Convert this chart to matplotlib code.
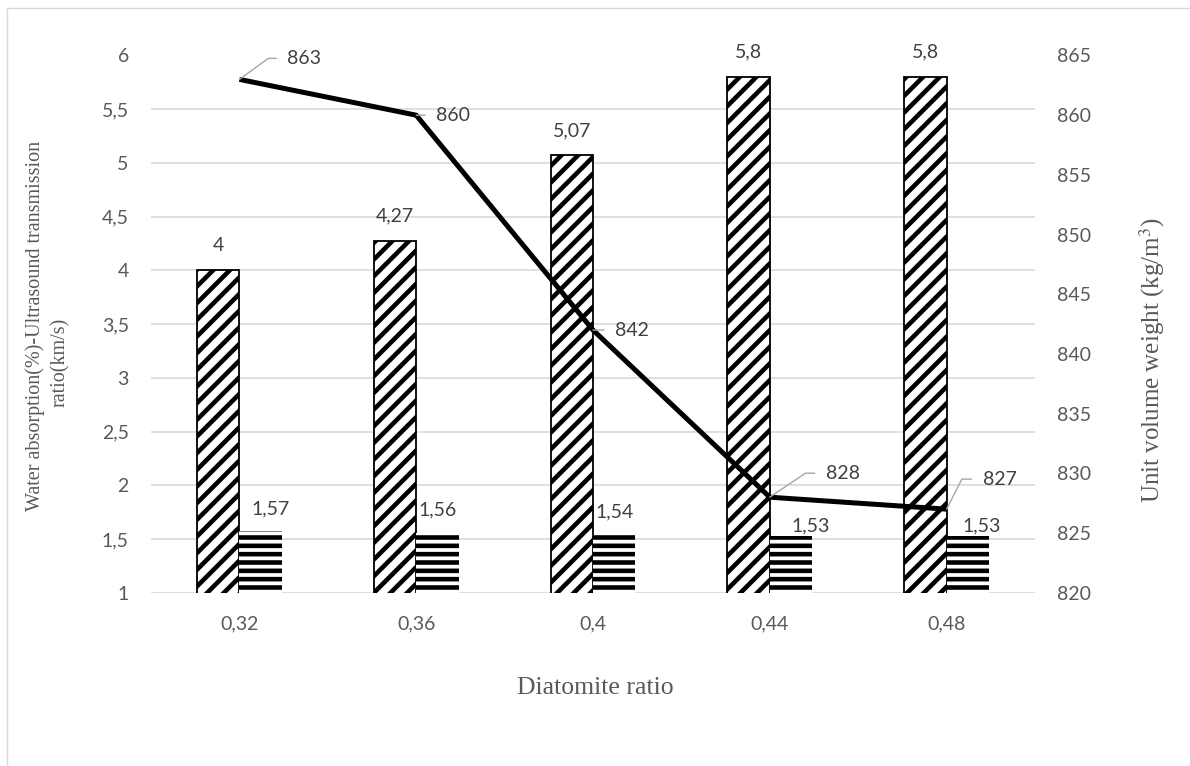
import matplotlib.pyplot as plt
from matplotlib.lines import Line2D

plt.rcParams['font.family'] = ['Lato', 'DejaVu Sans']
plt.rcParams['hatch.linewidth'] = 3.3

# diatomite ratios and measured properties
ratios = ['0,32', '0,36', '0,4', '0,44', '0,48']
water_absorption = [4, 4.27, 5.07, 5.8, 5.8]       # %
ultrasound_speed = [1.57, 1.56, 1.54, 1.53, 1.53]  # km/s
unit_weight = [863, 860, 842, 828, 827]            # kg/m3

left_ticks = [1, 1.5, 2, 2.5, 3, 3.5, 4, 4.5, 5, 5.5, 6]
right_ticks = [820, 825, 830, 835, 840, 845, 850, 855, 860, 865]

TICK_GREY = '#595959'
LABEL_GREY = '#404040'
GRID_GREY = '#d9d9d9'
LEADER_GREY = '#a6a6a6'


def comma(v):
    return f'{v:g}'.replace('.', ',')


def px(v):
    # pixel offsets -> points at 100 dpi
    return v * 0.72


fig = plt.figure(figsize=(11.9, 7.66), dpi=100)
ax1 = fig.add_axes([151 / 1190, 1 - 592.7 / 766, (1035 - 151) / 1190, (592.7 - 55.5) / 766])
ax2 = ax1.twinx()

x = list(range(len(ratios)))
w = 0.24

ax1.bar([i - w / 2 for i in x], water_absorption, w, color='white', edgecolor='black',
        linewidth=1.3, hatch='//', zorder=2)
ax1.bar([i + w / 2 for i in x], ultrasound_speed, w, color='white', edgecolor='black',
        linewidth=0, hatch='--', zorder=2)

ax1.set_xlim(-0.5, len(ratios) - 0.5)
ax1.set_ylim(1, 6)
ax1.set_yticks(left_ticks)
ax1.set_yticklabels([comma(t) for t in left_ticks])
ax1.set_xticks(x)
ax1.set_xticklabels(ratios)
ax1.yaxis.grid(True, color=GRID_GREY, linewidth=1.2)
ax1.set_axisbelow(True)

ax2.plot(x, unit_weight, color='black', linewidth=3.6, solid_capstyle='butt', zorder=3)
ax2.set_ylim(820, 865)
ax2.set_yticks(right_ticks)
ax2.set_yticklabels([str(t) for t in right_ticks])

for ax in (ax1, ax2):
    for s in ax.spines.values():
        s.set_visible(False)
    ax.tick_params(length=0, labelsize=14, labelcolor=TICK_GREY)
ax1.tick_params(axis='y', pad=16)
ax2.tick_params(axis='y', pad=16)
ax1.tick_params(axis='x', pad=16)

# value labels on the bars
for i, v in zip(x, water_absorption):
    ax1.annotate(comma(v), (i - w / 2, v), xytext=(0, px(25)), textcoords='offset points',
                 ha='center', va='center', fontsize=14, color=LABEL_GREY)

us_offsets = [(10, 23), (0, 23), (0, 23), (20, 10), (14, 10)]
for i, v, (dx, dy) in zip(x, ultrasound_speed, us_offsets):
    ax1.annotate(comma(v), (i + w / 2, v), xytext=(px(dx), px(dy)), textcoords='offset points',
                 ha='center', va='center', fontsize=14, color=LABEL_GREY)

# unit weight labels with leader lines
uw_offsets = [(48, 21, 36), (20, 0, None), (22, 0, None), (56, 24, 34), (36, 30, 63)]
for i, v, (dx, dy, ang) in zip(x, unit_weight, uw_offsets):
    if ang is None:
        conn = 'arc3'
    else:
        conn = f'angle,angleA=0,angleB={ang},rad=0'
    ax2.annotate(str(v), (i, v), xytext=(px(dx), px(dy)), textcoords='offset points',
                 ha='left', va='center', fontsize=14, color=LABEL_GREY, zorder=4,
                 arrowprops=dict(arrowstyle='-', color=LEADER_GREY, lw=1, shrinkA=6,
                                 shrinkB=0, relpos=(0, 0.5), connectionstyle=conn))

# axis titles
serif = ['Liberation Serif', 'DejaVu Serif']
fig.text(35 / 1190, 1 - 326 / 766, 'Water absorption(%)-Ultrasound transmission',
         rotation=90, ha='center', va='center', fontsize=14.5, family=serif, color=TICK_GREY)
fig.text(60 / 1190, 1 - 362 / 766, 'ratio(km/s)',
         rotation=90, ha='center', va='center', fontsize=14.5, family=serif, color=TICK_GREY)
fig.text(1152 / 1190, 1 - 360 / 766, 'Unit volume weight (kg/m$^3$)',
         rotation=90, ha='center', va='center', fontsize=18, family=serif, color=TICK_GREY,
         math_fontfamily='stix')
fig.text(595 / 1190, 1 - 688 / 766, 'Diatomite ratio',
         ha='center', va='center', fontsize=18.5, family=serif, color=TICK_GREY)

# chart area border
fig.add_artist(Line2D([7 / 1190, 7 / 1190], [0, 1 - 8 / 766], transform=fig.transFigure,
                      color=GRID_GREY, linewidth=1))
fig.add_artist(Line2D([7 / 1190, 1], [1 - 8 / 766, 1 - 8 / 766], transform=fig.transFigure,
                      color=GRID_GREY, linewidth=1))

fig.savefig('out.png', dpi=100)
